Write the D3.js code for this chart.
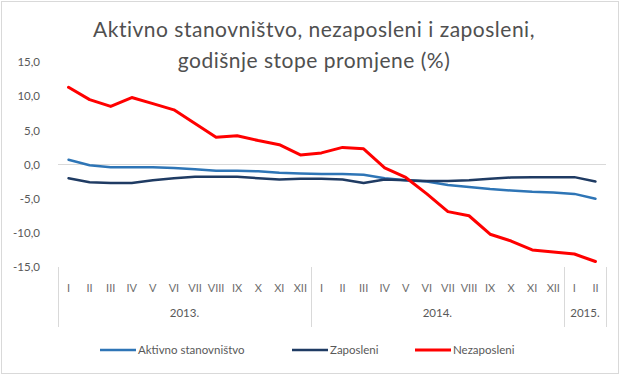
<!DOCTYPE html>
<html>
<head>
<meta charset="utf-8">
<script src="https://cdn.jsdelivr.net/npm/d3@7"></script>
<style>
  body { margin: 0; background: #fff; }
  text { font-family: Lato, "Open Sans", sans-serif; fill: #595959; }
</style>
</head>
<body>
<svg id="chart" width="625" height="377"></svg>
<script>
// months Jan 2013 .. Feb 2015
const months = ["I","II","III","IV","V","VI","VII","VIII","IX","X","XI","XII",
  "I","II","III","IV","V","VI","VII","VIII","IX","X","XI","XII",
  "I","II"];
const years = [
  { label: "2013.", count: 12 },
  { label: "2014.", count: 12 },
  { label: "2015.", count: 2 },
];
const aktivno = [0.7, -0.1, -0.4, -0.4, -0.4, -0.5, -0.7, -0.9, -0.9, -1.0, -1.2, -1.3,
  -1.4, -1.4, -1.5, -2.0, -2.3, -2.5, -3.0, -3.3, -3.6, -3.8, -4.0, -4.1, -4.3, -5.0];
const zaposleni = [-2.0, -2.6, -2.7, -2.7, -2.3, -2.0, -1.8, -1.8, -1.8, -2.0, -2.2, -2.1,
  -2.1, -2.2, -2.7, -2.2, -2.3, -2.4, -2.4, -2.3, -2.1, -1.9, -1.85, -1.85, -1.85, -2.5];
const nezaposleni = [11.3, 9.5, 8.5, 9.8, 8.9, 8.0, 6.0, 4.0, 4.2, 3.5, 2.9, 1.4,
  1.7, 2.5, 2.3, -0.5, -1.9, -4.3, -6.9, -7.5, -10.2, -11.2, -12.5, -12.8, -13.1, -14.2];
const yTicks = [-15, -10, -5, 0, 5, 10, 15];
const titleLines = ["Aktivno stanovništvo, nezaposleni i zaposleni,", "godišnje stope promjene (%)"];

const series = [
  { name: "Aktivno stanovništvo", values: aktivno, color: "#2E75B6", width: 2.5 },
  { name: "Zaposleni", values: zaposleni, color: "#1F3B63", width: 2.5 },
  { name: "Nezaposleni", values: nezaposleni, color: "#FF0000", width: 3 },
];

const svg = d3.select("#chart");

// outer frame
svg.append("rect")
  .attr("x", 1.5).attr("y", 1.5)
  .attr("width", 617).attr("height", 372)
  .attr("fill", "#fff")
  .attr("stroke", "#d9d9d9");

// title
svg.append("g").selectAll("text")
  .data(titleLines)
  .enter()
  .append("text")
  .attr("x", 314)
  .attr("y", function (d, i) { return 37 + i * 31; })
  .attr("text-anchor", "middle")
  .style("font-size", "21px")
  .style("letter-spacing", "0.5px")
  .style("fill", "#505050")
  .text(function (d) { return d; });

const x = d3.scaleBand().domain(d3.range(months.length)).range([58, 606]);
const y = d3.scaleLinear().domain([-15, 15]).range([267, 62]);

// y axis labels
const yAxis = d3.axisLeft(y)
  .tickValues(yTicks)
  .tickSize(0)
  .tickPadding(0)
  .tickFormat(function (d) { return d3.format(".1f")(d).replace(".", ",").replace("−", "-"); });
const yg = svg.append("g").attr("transform", "translate(40,0)").call(yAxis);
yg.select(".domain").remove();
yg.selectAll("text").style("font-size", "11.5px").style("fill", "#595959").style("font-family", "Lato, sans-serif");

// zero line
svg.append("line")
  .attr("x1", 58).attr("x2", 606)
  .attr("y1", y(0)).attr("y2", y(0))
  .attr("stroke", "#d9d9d9").attr("stroke-width", 1);

// month labels
svg.append("g").selectAll("text")
  .data(months)
  .enter()
  .append("text")
  .attr("x", function (d, i) { return x(i) + x.bandwidth() / 2; })
  .attr("y", 292)
  .attr("text-anchor", "middle")
  .style("font-size", "11px")
  .style("fill", "#6e6e6e")
  .text(function (d) { return d; });

// year groups and separators
let start = 0;
const bounds = [0];
years.forEach(function (yr) {
  yr.start = start;
  start += yr.count;
  bounds.push(start);
});
svg.append("g").selectAll("line")
  .data(bounds)
  .enter()
  .append("line")
  .attr("x1", function (d) { return Math.round(x.step() * d + 58) + 0.5; })
  .attr("x2", function (d) { return Math.round(x.step() * d + 58) + 0.5; })
  .attr("y1", 267).attr("y2", 327)
  .attr("stroke", "#d9d9d9");
svg.append("g").selectAll("text")
  .data(years)
  .enter()
  .append("text")
  .attr("x", function (d) { return 58 + x.step() * (d.start + d.count / 2); })
  .attr("y", 317)
  .attr("text-anchor", "middle")
  .style("font-size", "11.5px")
  .text(function (d) { return d.label; });

// lines
const line = d3.line()
  .x(function (d, i) { return x(i) + x.bandwidth() / 2; })
  .y(function (d) { return y(d); });

svg.append("g").selectAll("path")
  .data(series)
  .enter()
  .append("path")
  .attr("d", function (d) { return line(d.values); })
  .attr("fill", "none")
  .attr("stroke", function (d) { return d.color; })
  .attr("stroke-width", function (d) { return d.width; })
  .attr("stroke-linejoin", "round")
  .attr("stroke-linecap", "round");

// legend
const legendX = [100, 292, 415];
const lg = svg.append("g").selectAll("g")
  .data(series)
  .enter()
  .append("g")
  .attr("transform", function (d, i) { return "translate(" + legendX[i] + ",350)"; });
lg.append("line")
  .attr("x1", 0).attr("x2", 36)
  .attr("stroke", function (d) { return d.color; })
  .attr("stroke-width", function (d) { return d.width; });
lg.append("text")
  .attr("x", 38)
  .attr("y", 4)
  .style("font-size", "11.5px")
  .text(function (d) { return d.name; });
</script>
</body>
</html>
